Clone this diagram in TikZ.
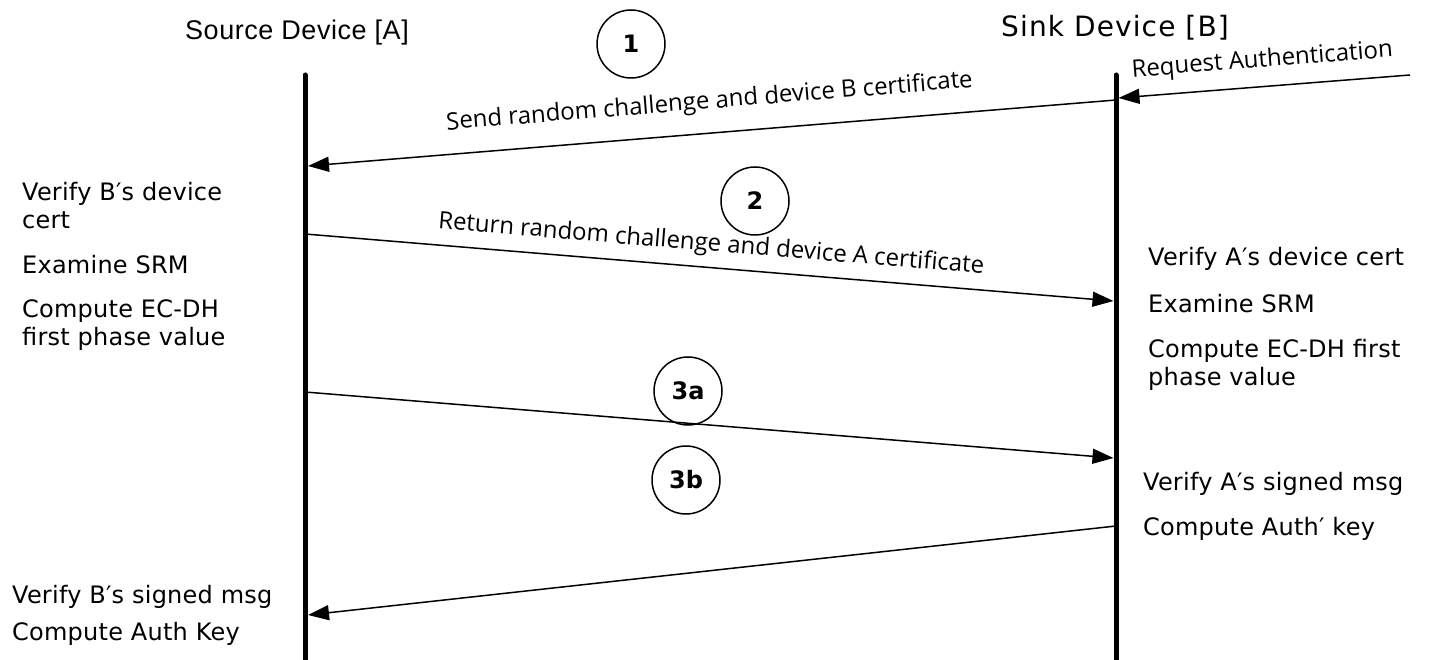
\documentclass[tikz,border=0pt]{standalone}
\usepackage{fontspec}
\usetikzlibrary{arrows.meta}
\setmainfont{DejaVu Sans}
\newfontfamily\notefont[LetterSpace=1]{DejaVu Sans}
\newfontfamily\sinkfont[LetterSpace=4]{DejaVu Sans}
\newfontfamily\srcfont[LetterSpace=2]{Liberation Sans}
\newfontfamily\msgfont{Open Sans}

\begin{document}
\begin{tikzpicture}[x=1pt,y=1pt]
    \tikzstyle{every node}+=[inner sep=0pt]
    \tikzstyle{lifeline}=[black, line width=5pt, line cap=round]
    \tikzstyle{msg}=[black, line width=1.5pt, -{Triangle[length=21pt,width=15pt]}]
    \tikzstyle{msgback}=[black, line width=1.5pt, {Triangle[length=21pt,width=15pt]}-]
    \tikzstyle{stepmark}=[draw, circle, line width=1.5pt, minimum size=68pt, font=\fontsize{24}{28}\selectfont\bfseries]
    \tikzstyle{note}=[anchor=north west, align=left, font=\fontsize{24}{28}\notefont]
    \tikzstyle{msglabel}=[sloped, font=\fontsize{24}{28}\msgfont]
    \useasboundingbox (0,0) rectangle (1430,-660);
    % device names
    \node[anchor=base, font=\fontsize{27}{30}\srcfont] (srcA) at (297,-40) {Source Device [A]};
    \node[anchor=base, font=\fontsize{28}{30}\sinkfont] (sinkB) at (1115,-37) {Sink Device [B]};
    % lifelines
    \coordinate (atop) at (305,-75);
    \coordinate (abot) at (305,-665);
    \coordinate (btop) at (1116,-75);
    \coordinate (bbot) at (1116,-665);
    \draw [lifeline] (atop) -- (abot);
    \draw [lifeline] (btop) -- (bbot);
    % message ends
    \coordinate (req) at (1410,-75);
    \coordinate (b0) at (1118.5,-98);
    \coordinate (b1) at (1116,-100);
    \coordinate (a1) at (308,-166);
    \coordinate (a2) at (305,-234);
    \coordinate (b2) at (1113.5,-301);
    \coordinate (a3) at (305,-392);
    \coordinate (b3) at (1113.5,-458);
    \coordinate (b4) at (1116,-526);
    \coordinate (a4) at (308,-615);
    % messages
    \draw [msgback] (b0) -- node[msglabel, above=13pt] {Request Authentication} (req);
    \draw [msgback] (a1) -- node[msglabel, above=18pt] {Send random challenge and device B certificate} (b1);
    \draw [msg] (a2) -- node[msglabel, above=10pt] {Return random challenge and device A certificate} (b2);
    \draw [msg] (a3) -- (b3);
    \draw [msgback] (a4) -- (b4);
    % step marks
    \node[stepmark] (s1) at (631,-44) {1};
    \node[stepmark] (s2) at (755,-201) {2};
    \node[stepmark] (s3a) at (688,-391) {3a};
    \node[stepmark] (s3b) at (686,-480) {3b};
    % notes
    \node[note] (anote1) at (22,-182) {Verify B′s device\\cert\\[17pt]Examine SRM\\[16pt]Compute EC-DH\\first phase value};
    \node[note] (bnote1) at (1148,-247) {Verify A′s device cert\\[19pt]Examine SRM\\[17pt]Compute EC-DH first\\phase value};
    \node[note] (bnote2) at (1143,-472) {Verify A′s signed msg\\[17pt]Compute Auth′ key};
    \node[note] (anote2) at (12,-585) {Verify B′s signed msg\\[9pt]Compute Auth Key};
\end{tikzpicture}
\end{document}
